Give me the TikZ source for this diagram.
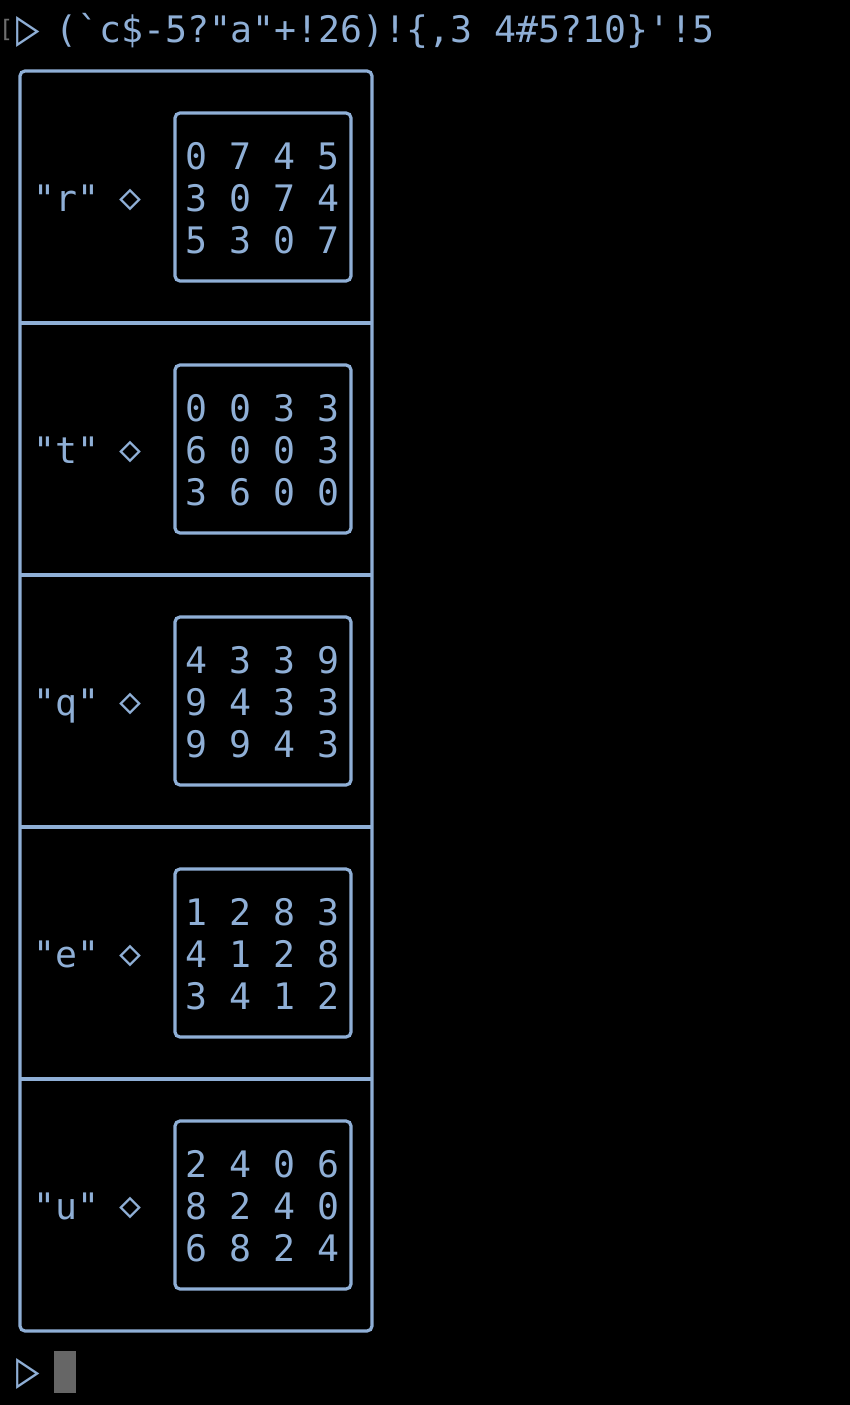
\documentclass[tikz,border=0pt]{standalone}
\usepackage{fontspec}
\setmonofont{DejaVu Sans Mono}
\definecolor{aplblue}{RGB}{143,175,214}
\definecolor{cursorgray}{RGB}{102,102,102}
\definecolor{bracketgray}{RGB}{110,110,110}

\begin{document}
\begin{tikzpicture}[x=1pt, y=-1pt,
    txt/.style={text=aplblue, inner sep=0pt, anchor=base west, font=\ttfamily\fontsize{36.5}{42}\selectfont},
    sym/.style={text=aplblue, inner sep=0pt, font=\ttfamily\fontsize{36.5}{42}\selectfont},
    promptsym/.style={text=aplblue, inner sep=0pt, font=\ttfamily\fontsize{52}{56}\selectfont},
    frame/.style={draw=aplblue, line width=3.2pt, rounded corners=5pt},
    divider/.style={draw=aplblue, line width=3.2pt},
    matbox/.style={draw=aplblue, line width=3.2pt, rounded corners=5pt, minimum width=176pt, minimum height=168pt, inner sep=0pt}]

        \useasboundingbox (0,0) rectangle (850,1405);
        \fill[black] (0,0) rectangle (850,1405);

        % input line
        \node[inner sep=0pt, text=bracketgray, font=\ttfamily\fontsize{24}{28}\selectfont] (bracket) at (6,30) {[};
        \node[promptsym] (prompt_in) at (28,32) {\scalebox{0.75}[1]{▷}};
        \node[txt] (expr) at (55,43) {(`c\$-5?"a"+!26)!\{,3 4\#5?10\}'!5};

        % outer box with five rows
        \draw[frame] (20,71) rectangle (372,1331);
        \draw[divider] (20,323) -- (372,323);
        \draw[divider] (20,575) -- (372,575);
        \draw[divider] (20,827) -- (372,827);
        \draw[divider] (20,1079) -- (372,1079);

        % "r"
        \node[txt] (r_key) at (33,211) {"r"};
        \node[sym] (r_sep) at (130,200) {◇};
        \node[matbox] (r_box) at (263,197) {};
        \node[txt] (r_row1) at (185,169) {0 7 4 5};
        \node[txt] (r_row2) at (185,211) {3 0 7 4};
        \node[txt] (r_row3) at (185,253) {5 3 0 7};

        % "t"
        \node[txt] (t_key) at (33,463) {"t"};
        \node[sym] (t_sep) at (130,452) {◇};
        \node[matbox] (t_box) at (263,449) {};
        \node[txt] (t_row1) at (185,421) {0 0 3 3};
        \node[txt] (t_row2) at (185,463) {6 0 0 3};
        \node[txt] (t_row3) at (185,505) {3 6 0 0};

        % "q"
        \node[txt] (q_key) at (33,715) {"q"};
        \node[sym] (q_sep) at (130,704) {◇};
        \node[matbox] (q_box) at (263,701) {};
        \node[txt] (q_row1) at (185,673) {4 3 3 9};
        \node[txt] (q_row2) at (185,715) {9 4 3 3};
        \node[txt] (q_row3) at (185,757) {9 9 4 3};

        % "e"
        \node[txt] (e_key) at (33,967) {"e"};
        \node[sym] (e_sep) at (130,956) {◇};
        \node[matbox] (e_box) at (263,953) {};
        \node[txt] (e_row1) at (185,925) {1 2 8 3};
        \node[txt] (e_row2) at (185,967) {4 1 2 8};
        \node[txt] (e_row3) at (185,1009) {3 4 1 2};

        % "u"
        \node[txt] (u_key) at (33,1219) {"u"};
        \node[sym] (u_sep) at (130,1208) {◇};
        \node[matbox] (u_box) at (263,1205) {};
        \node[txt] (u_row1) at (185,1177) {2 4 0 6};
        \node[txt] (u_row2) at (185,1219) {8 2 4 0};
        \node[txt] (u_row3) at (185,1261) {6 8 2 4};

        % next prompt
        \node[promptsym] (prompt_out) at (28,1374) {\scalebox{0.75}[1]{▷}};
        \node[fill=cursorgray, minimum width=22pt, minimum height=42pt, inner sep=0pt] (cursor) at (65,1372) {};

    \end{tikzpicture}
\end{document}
